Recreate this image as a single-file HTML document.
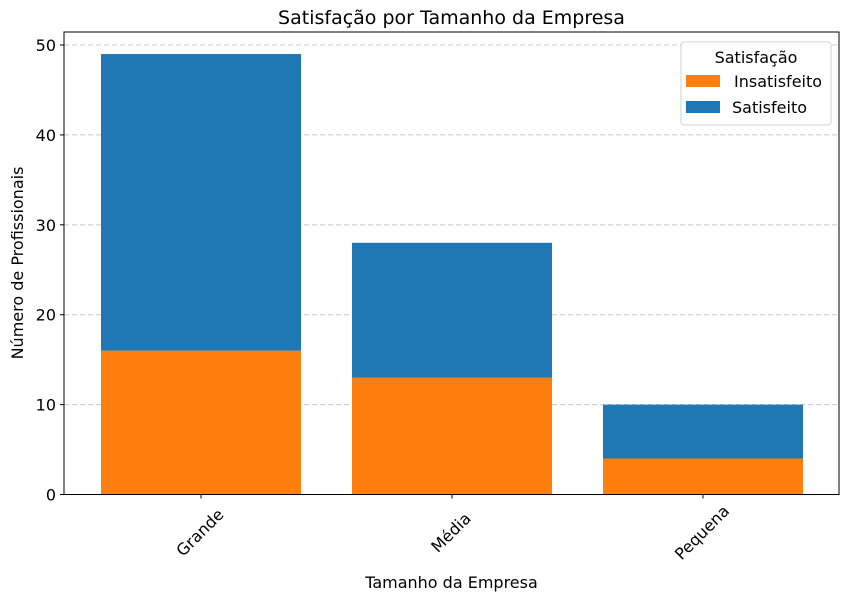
<!DOCTYPE html>
<html><head><meta charset="utf-8"><style>
body{margin:0;background:#fff;font-family:"Liberation Sans","DejaVu Sans",sans-serif}
</style></head><body>
<svg id="c" width="849" height="601" xmlns="http://www.w3.org/2000/svg" font-family="DejaVu Sans, Liberation Sans, sans-serif"></svg>
<script>
const categories=["Grande","Média","Pequena"];
const insatisfeito=[16,13,4];
const satisfeito=[33,15,6];
const yTicks=[0,10,20,30,40,50];
const seriesNames=["Insatisfeito","Satisfeito"];
const L=64,R=839,T=32,B=494.5;
const yMax=51.45;
function y(v){return B-(v/yMax)*(B-T);}
const band=251;
function xc(i){return 201+i*band;}
const bw=200;
const svg=document.getElementById('c');
const NS="http://www.w3.org/2000/svg";
function mk(tag,attrs,text){const e=document.createElementNS(NS,tag);for(const k in attrs)e.setAttribute(k,attrs[k]);if(text!==undefined)e.textContent=text;svg.appendChild(e);return e;}
yTicks.forEach(v=>{
  if(v>0){const g=mk('line',{x1:L,x2:R,y1:y(v),y2:y(v),stroke:'#c8c8c8','stroke-dasharray':'5,3','stroke-width':1});
  
  }
  const t=mk('line',{x1:L-4,x2:L,y1:y(v),y2:y(v),stroke:'#000'});
  
  
  const l=mk('text',{x:L-8,y:y(v)+6,'text-anchor':'end','font-size':16},String(v));
  
  
});
categories.forEach((c,i)=>{
  const a=mk('rect',{x:xc(i)-bw/2,y:y(insatisfeito[i]),width:bw,height:y(0)-y(insatisfeito[i]),fill:'#ff7f0e'});
  
  
  const top=insatisfeito[i]+satisfeito[i];
  const b=mk('rect',{x:xc(i)-bw/2,y:y(top),width:bw,height:y(insatisfeito[i])-y(top),fill:'#1f77b4'});
  
  
  const t=mk('line',{x1:xc(i),x2:xc(i),y1:B,y2:B+4,stroke:'#000'});
  
  
  const cx=xc(i)-1,cy=B+38;
  const l=mk('text',{x:cx,y:cy,'text-anchor':'middle','dominant-baseline':'central','font-size':16,transform:`rotate(-45 ${cx} ${cy})`},c);
  
  
});
const fr=mk('rect',{x:L,y:T,width:R-L,height:B-T,fill:'none',stroke:'#000','stroke-width':1});


const ti=mk('text',{x:(L+R)/2,y:24,'text-anchor':'middle','font-size':19},'Satisfação por Tamanho da Empresa');


const xt=mk('text',{x:(L+R)/2,y:588,'text-anchor':'middle','font-size':16},'Tamanho da Empresa');


const yt=mk('text',{x:23,y:263,'text-anchor':'middle','font-size':16,transform:'rotate(-90 23 263)'},'Número de Profissionais');


const lg=mk('rect',{x:681,y:42,width:150,height:83,rx:3,fill:'#fff','fill-opacity':0.85,stroke:'#d0d0d0'});


const lt=mk('text',{x:756,y:63,'text-anchor':'middle','font-size':16},'Satisfação');


const cols=['#ff7f0e','#1f77b4'];
seriesNames.forEach((n,k)=>{
  const sw=mk('rect',{x:686,y:75+k*26,width:34,height:12,fill:cols[k]});
  
  
  const tx=mk('text',{x:k==0?734:732,y:87+k*26,'font-size':16},n);
  
  
});
</script>
</body></html>
